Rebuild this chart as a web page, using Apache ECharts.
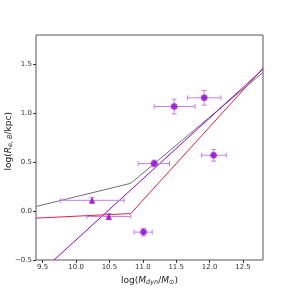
<!DOCTYPE html>
<html><head><meta charset="utf-8">
<script src="https://cdn.jsdelivr.net/npm/echarts@6/dist/echarts.min.js"></script>
<style>html,body{margin:0;padding:0;background:#fff}#c{width:293px;height:293px}</style>
</head><body><div id="c"></div>
<script>
// Data
const logMdyn = [10.24, 10.49, 11.01, 11.17, 11.47, 11.92, 12.06];
const logRe   = [0.11, -0.055, -0.215, 0.486, 1.069, 1.158, 0.571];
const mLo     = [9.77, 10.16, 10.87, 10.93, 11.17, 11.67, 11.88];
const mHi     = [10.72, 10.82, 11.14, 11.40, 11.78, 12.17, 12.25];
const reErr   = [0.03, 0.03, 0.04, 0.035, 0.075, 0.075, 0.06];
const markers = ['triangle', 'triangle', 'circle', 'circle', 'circle', 'circle', 'circle'];
const grayRel   = [[9.4, 0.047], [10.82, 0.284], [12.8, 1.418]];
const redRel    = [[9.4, -0.072], [10.82, -0.025], [12.8, 1.46]];
const purpleRel = [[9.67, -0.5], [12.8, 1.45]];
const xTicks = [9.5, 10.0, 10.5, 11.0, 11.5, 12.0, 12.5];
const yTicks = [-0.5, 0.0, 0.5, 1.0, 1.5];

const errData = logMdyn.map((m, i) => [m, logRe[i], mLo[i], mHi[i], logRe[i] - reErr[i], logRe[i] + reErr[i]]);
const ptData = logMdyn.map((m, i) => ({value: [m, logRe[i]], symbol: markers[i]}));

const chart = echarts.init(document.getElementById('c'), null, {renderer: 'canvas'});
const font = 'DejaVu Sans';
chart.setOption({
  animation: false,
  grid: {left: 36, top: 35, right: 30, bottom: 33, containLabel: false, outerBoundsMode: 'none',
    show: true, borderColor: '#555', borderWidth: 1, backgroundColor: 'transparent'},
  graphic: [{
    type: 'text', left: 4, top: 112, rotation: Math.PI / 2, z: 10,
    style: {
      text: '{n|log(}{i|R}{s|e, B}{n|/kpc)}',
      rich: {
        n: {fontFamily: font, fontSize: 9, fill: '#222'},
        i: {fontFamily: font, fontSize: 9, fontStyle: 'italic', fill: '#222'},
        s: {fontFamily: font, fontSize: 6.5, fontStyle: 'italic', fill: '#222', verticalAlign: 'bottom', padding: [4, 0, 0, 0]}
      }
    }
  }],
  xAxis: {
    type: 'value', min: 9.4, max: 12.8,
    name: '{n|log(}{i|M}{s|dyn}{n|/}{i|M}{s|⊙}{n|)}', nameLocation: 'middle', nameGap: 14,
    nameTextStyle: {rich: {
      n: {fontFamily: font, fontSize: 9, color: '#222'},
      i: {fontFamily: font, fontSize: 9, fontStyle: 'italic', color: '#222'},
      s: {fontFamily: font, fontSize: 6.5, fontStyle: 'italic', color: '#222', verticalAlign: 'bottom', padding: [4, 0, 0, 0]}
    }},
    axisLine: {show: false, onZero: false},
    splitLine: {show: false},
    axisTick: {show: true, length: 3, inside: false, lineStyle: {color: '#333'}, customValues: xTicks},
    axisLabel: {fontFamily: font, fontSize: 7, color: '#333', margin: 4, customValues: xTicks,
      formatter: v => v.toFixed(1)}
  },
  yAxis: {
    type: 'value', min: -0.5, max: 1.8,
    axisLine: {show: false, onZero: false},
    splitLine: {show: false},
    axisTick: {show: true, length: 3, lineStyle: {color: '#333'}, customValues: yTicks},
    axisLabel: {fontFamily: font, fontSize: 7, color: '#333', margin: 4, customValues: yTicks,
      formatter: v => (v < 0 ? '\u2212' + Math.abs(v).toFixed(1) : v.toFixed(1))}
  },
  series: [
    {type: 'line', data: grayRel, symbol: 'none', clip: true, lineStyle: {color: '#707070', width: 1}, z: 2},
    {type: 'line', data: redRel, symbol: 'none', clip: true, lineStyle: {color: '#e0203f', width: 1}, z: 2},
    {type: 'line', data: purpleRel, symbol: 'none', clip: true, lineStyle: {color: '#9400d3', width: 1}, z: 2},
    {
      type: 'custom', data: errData, z: 3, clip: true,
      renderItem: (params, api) => {
        const y = api.value(1);
        const xl = api.coord([api.value(2), y]);
        const xh = api.coord([api.value(3), y]);
        const yl = api.coord([api.value(0), api.value(4)]);
        const yh = api.coord([api.value(0), api.value(5)]);
        const cap = 2.5;
        const st = {stroke: '#c580ea', lineWidth: 1};
        return {type: 'group', children: [
          {type: 'line', shape: {x1: xl[0], y1: xl[1], x2: xh[0], y2: xh[1]}, style: st},
          {type: 'line', shape: {x1: xl[0], y1: xl[1] - cap, x2: xl[0], y2: xl[1] + cap}, style: st},
          {type: 'line', shape: {x1: xh[0], y1: xh[1] - cap, x2: xh[0], y2: xh[1] + cap}, style: st},
          {type: 'line', shape: {x1: yl[0], y1: yl[1], x2: yh[0], y2: yh[1]}, style: st},
          {type: 'line', shape: {x1: yl[0] - cap, y1: yl[1], x2: yl[0] + cap, y2: yl[1]}, style: st},
          {type: 'line', shape: {x1: yh[0] - cap, y1: yh[1], x2: yh[0] + cap, y2: yh[1]}, style: st}
        ]};
      }
    },
    {type: 'scatter', data: ptData, symbolSize: 6.5, itemStyle: {color: '#9400d3'}, z: 4}
  ]
});
</script></body></html>
